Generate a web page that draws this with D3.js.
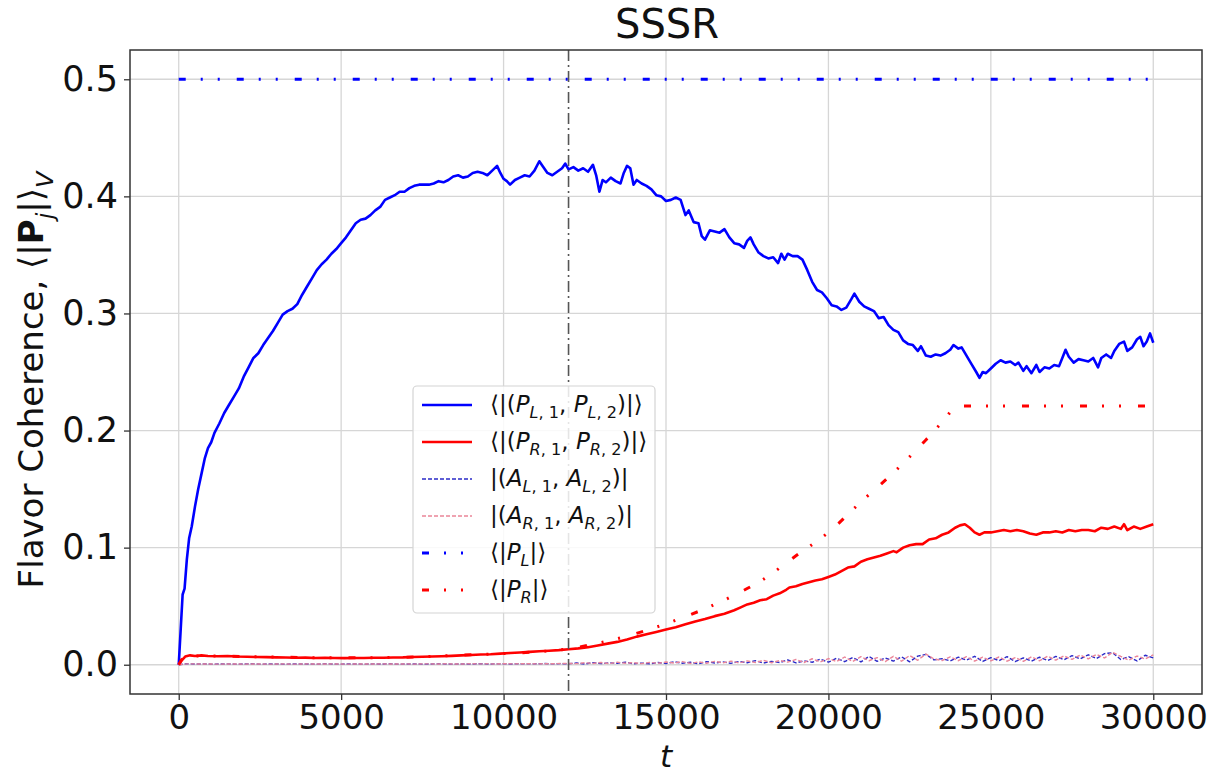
<!DOCTYPE html>
<html>
<head>
<meta charset="utf-8">
<script src="https://cdn.jsdelivr.net/npm/d3@7"></script>
<style>
  body { margin: 0; background: #fff; }
  svg text { font-family: "DejaVu Sans", sans-serif; }
</style>
</head>
<body>
<svg id="chart" width="1215" height="775"></svg>
<script>
// time, <|(P_L1, P_L2)|>
var pairL = [[0,0],[60,0.03],[120,0.06],[180,0.065],[250,0.09],[320,0.108],[400,0.118],[500,0.135],[600,0.15],[700,0.163],[800,0.176],[900,0.185],[1000,0.19],[1100,0.198],[1250,0.206],[1400,0.215],[1550,0.222],[1700,0.229],[1850,0.236],[2000,0.246],[2150,0.254],[2300,0.262],[2450,0.266],[2600,0.273],[2750,0.279],[2900,0.285],[3050,0.292],[3200,0.299],[3350,0.302],[3500,0.304],[3650,0.308],[3800,0.316],[3950,0.323],[4100,0.33],[4250,0.337],[4400,0.342],[4550,0.346],[4700,0.351],[4850,0.355],[5000,0.36],[5150,0.365],[5300,0.371],[5450,0.377],[5600,0.38],[5750,0.381],[5900,0.384],[6050,0.388],[6200,0.391],[6350,0.397],[6500,0.399],[6650,0.401],[6800,0.404],[6950,0.404],[7100,0.407],[7250,0.409],[7400,0.41],[7550,0.41],[7700,0.41],[7850,0.411],[8000,0.413],[8150,0.412],[8300,0.414],[8450,0.417],[8600,0.418],[8750,0.416],[8900,0.417],[9050,0.42],[9200,0.421],[9350,0.42],[9500,0.418],[9650,0.422],[9800,0.426],[9900,0.42],[10000,0.415],[10100,0.413],[10200,0.41],[10350,0.414],[10500,0.416],[10650,0.418],[10800,0.417],[10950,0.422],[11100,0.43],[11200,0.426],[11350,0.42],[11500,0.418],[11650,0.421],[11800,0.424],[11900,0.428],[12000,0.423],[12150,0.425],[12300,0.422],[12450,0.424],[12600,0.421],[12750,0.427],[12850,0.418],[12950,0.404],[13050,0.414],[13150,0.412],[13300,0.416],[13450,0.413],[13600,0.411],[13700,0.42],[13800,0.426],[13900,0.424],[14000,0.41],[14100,0.414],[14250,0.411],[14400,0.409],[14550,0.406],[14700,0.401],[14850,0.4],[15000,0.396],[15150,0.397],[15300,0.399],[15450,0.397],[15600,0.384],[15700,0.388],[15850,0.378],[16000,0.377],[16100,0.366],[16200,0.363],[16350,0.371],[16500,0.37],[16650,0.369],[16800,0.372],[16950,0.365],[17100,0.36],[17250,0.359],[17400,0.356],[17500,0.362],[17600,0.365],[17700,0.359],[17850,0.352],[18000,0.349],[18150,0.347],[18300,0.348],[18450,0.343],[18550,0.351],[18650,0.346],[18750,0.351],[18900,0.349],[19050,0.349],[19200,0.346],[19350,0.337],[19500,0.327],[19650,0.32],[19800,0.318],[19950,0.313],[20100,0.307],[20250,0.306],[20400,0.303],[20550,0.305],[20700,0.312],[20800,0.317],[20950,0.31],[21100,0.306],[21250,0.304],[21400,0.302],[21550,0.296],[21700,0.297],[21850,0.29],[22000,0.286],[22150,0.284],[22300,0.277],[22450,0.274],[22600,0.273],[22750,0.268],[22850,0.272],[23000,0.264],[23150,0.263],[23300,0.265],[23450,0.264],[23600,0.266],[23750,0.269],[23850,0.273],[24000,0.27],[24100,0.271],[24250,0.264],[24400,0.257],[24550,0.25],[24650,0.245],[24750,0.25],[24850,0.249],[25000,0.253],[25150,0.257],[25300,0.26],[25450,0.258],[25600,0.259],[25750,0.256],[25850,0.258],[26000,0.251],[26100,0.255],[26250,0.249],[26400,0.256],[26500,0.25],[26650,0.254],[26800,0.253],[26950,0.256],[27100,0.255],[27200,0.262],[27300,0.269],[27400,0.263],[27550,0.258],[27700,0.261],[27850,0.26],[28000,0.259],[28150,0.262],[28300,0.254],[28400,0.262],[28550,0.265],[28700,0.262],[28800,0.268],[28950,0.274],[29100,0.276],[29200,0.268],[29350,0.271],[29500,0.278],[29600,0.28],[29700,0.272],[29800,0.276],[29900,0.283],[30000,0.275]];

// time, <|(P_R1, P_R2)|>
var pairR = [[0,0],[100,0.004],[200,0.007],[350,0.008],[500,0.0075],[700,0.008],[900,0.0075],[1200,0.0072],[1500,0.0074],[1800,0.007],[2100,0.0068],[2400,0.0066],[2700,0.0065],[3000,0.0063],[3300,0.0062],[3600,0.006],[3900,0.0061],[4200,0.0058],[4500,0.0059],[4800,0.0057],[5100,0.0056],[5400,0.0058],[5700,0.0057],[6000,0.0059],[6300,0.006],[6600,0.0062],[6900,0.0063],[7200,0.0066],[7500,0.0068],[7800,0.007],[8100,0.0073],[8400,0.0076],[8700,0.008],[9000,0.0083],[9300,0.0087],[9600,0.009],[9900,0.0095],[10200,0.01],[10500,0.0105],[10800,0.011],[11100,0.0115],[11400,0.012],[11700,0.0125],[12000,0.0132],[12300,0.014],[12600,0.015],[12900,0.0165],[13200,0.018],[13500,0.0195],[13800,0.0215],[14100,0.024],[14400,0.026],[14700,0.028],[15000,0.03],[15300,0.032],[15600,0.0345],[15900,0.037],[16200,0.039],[16500,0.0415],[16800,0.0435],[17100,0.0465],[17300,0.049],[17500,0.0515],[17700,0.053],[17900,0.055],[18100,0.056],[18300,0.059],[18500,0.061],[18700,0.064],[18800,0.066],[19000,0.067],[19200,0.069],[19400,0.0705],[19600,0.072],[19800,0.073],[20000,0.075],[20200,0.077],[20400,0.08],[20600,0.083],[20800,0.084],[21000,0.088],[21200,0.09],[21400,0.0915],[21600,0.093],[21800,0.095],[22000,0.097],[22100,0.096],[22300,0.1],[22500,0.102],[22700,0.103],[22900,0.103],[23100,0.107],[23300,0.108],[23500,0.111],[23700,0.113],[23900,0.117],[24050,0.119],[24200,0.12],[24350,0.117],[24500,0.113],[24650,0.111],[24800,0.113],[25000,0.113],[25200,0.114],[25400,0.115],[25600,0.114],[25800,0.115],[26000,0.114],[26200,0.112],[26400,0.111],[26600,0.113],[26800,0.113],[27000,0.114],[27200,0.113],[27400,0.115],[27600,0.114],[27800,0.115],[28000,0.115],[28200,0.114],[28400,0.117],[28600,0.116],[28800,0.118],[29000,0.116],[29100,0.12],[29200,0.115],[29400,0.118],[29600,0.116],[29800,0.118],[30000,0.12]];

// time, |(A_L1, A_L2)|
var asymL = [[0,0],[250,0.0008],[500,0.0006],[750,0.0007],[1000,0.0005],[1250,0.0006],[1500,0.0007],[1750,0.0005],[2000,0.0006],[2250,0.0008],[2500,0.0005],[2750,0.0006],[3000,0.0007],[3250,0.0005],[3500,0.0006],[3750,0.0007],[4000,0.0006],[4250,0.0005],[4500,0.0008],[4750,0.0006],[5000,0.0005],[5250,0.0007],[5500,0.0006],[5750,0.0005],[6000,0.0007],[6250,0.0006],[6500,0.0008],[6750,0.0005],[7000,0.0006],[7250,0.0007],[7500,0.0005],[7750,0.0006],[8000,0.0008],[8250,0.0006],[8500,0.0005],[8750,0.0007],[9000,0.0006],[9250,0.0009],[9500,0.0006],[9750,0.0007],[10000,0.0008],[10250,0.0006],[10500,0.0009],[10750,0.0007],[11000,0.0008],[11250,0.001],[11500,0.0007],[11750,0.0009],[12000,0.0008],[12250,0.0015],[12500,0.0006],[12750,0.0018],[13000,0.0009],[13250,0.0016],[13500,0.0012],[13750,0.0022],[14000,0.0008],[14250,0.0014],[14500,0.0007],[14750,0.0019],[15000,0.0011],[15250,0.0025],[15500,0.0013],[15750,0.0021],[16000,0.0009],[16250,0.0026],[16500,0.0015],[16750,0.0024],[17000,0.0012],[17250,0.0028],[17500,0.0017],[17750,0.0035],[18000,0.0014],[18250,0.0029],[18500,0.0019],[18750,0.0041],[19000,0.0016],[19250,0.0033],[19500,0.0021],[19750,0.0048],[20000,0.0022],[20250,0.0055],[20500,0.0026],[20750,0.0062],[21000,0.0024],[21250,0.0071],[21500,0.0029],[21750,0.0058],[22000,0.0031],[22250,0.0068],[22500,0.0025],[22750,0.0074],[23000,0.0088],[23250,0.0041],[23500,0.0052],[23750,0.0033],[24000,0.0065],[24250,0.0039],[24500,0.0072],[24750,0.0028],[25000,0.0061],[25250,0.0035],[25500,0.0069],[25750,0.0027],[26000,0.0058],[26250,0.0031],[26500,0.0064],[26750,0.0036],[27000,0.0071],[27250,0.0042],[27500,0.0078],[27750,0.0049],[28000,0.0085],[28250,0.0052],[28500,0.0095],[28750,0.0102],[29000,0.0045],[29250,0.0068],[29500,0.0032],[29750,0.0081],[30000,0.0058]];

// time, |(A_R1, A_R2)|
var asymR = [[0,0],[250,0.0007],[500,0.0007],[750,0.0006],[1000,0.0006],[1250,0.0005],[1500,0.0007],[1750,0.0006],[2000,0.0005],[2250,0.0007],[2500,0.0006],[2750,0.0005],[3000,0.0006],[3250,0.0007],[3500,0.0005],[3750,0.0006],[4000,0.0007],[4250,0.0006],[4500,0.0006],[4750,0.0007],[5000,0.0006],[5250,0.0005],[5500,0.0007],[5750,0.0006],[6000,0.0006],[6250,0.0007],[6500,0.0006],[6750,0.0006],[7000,0.0007],[7250,0.0005],[7500,0.0007],[7750,0.0007],[8000,0.0006],[8250,0.0008],[8500,0.0006],[8750,0.0006],[9000,0.0008],[9250,0.0007],[9500,0.0008],[9750,0.0006],[10000,0.0009],[10250,0.0007],[10500,0.0008],[10750,0.0009],[11000,0.0007],[11250,0.0009],[11500,0.0008],[11750,0.001],[12000,0.0011],[12250,0.0009],[12500,0.0017],[12750,0.0011],[13000,0.0019],[13250,0.001],[13500,0.0021],[13750,0.0013],[14000,0.0018],[14250,0.0009],[14500,0.002],[14750,0.0012],[15000,0.0023],[15250,0.0014],[15500,0.0027],[15750,0.0011],[16000,0.0024],[16250,0.0013],[16500,0.0029],[16750,0.0016],[17000,0.0031],[17250,0.0015],[17500,0.0033],[17750,0.0018],[18000,0.0038],[18250,0.0017],[18500,0.0036],[18750,0.0022],[19000,0.0045],[19250,0.0019],[19500,0.0051],[19750,0.0024],[20000,0.0053],[20250,0.0027],[20500,0.0066],[20750,0.0028],[21000,0.0069],[21250,0.0034],[21500,0.0061],[21750,0.0027],[22000,0.0072],[22250,0.003],[22500,0.0079],[22750,0.0038],[23000,0.0091],[23250,0.0049],[23500,0.0036],[23750,0.0067],[24000,0.0034],[24250,0.0069],[24500,0.0031],[24750,0.0064],[25000,0.0033],[25250,0.0066],[25500,0.003],[25750,0.0061],[26000,0.0029],[26250,0.0067],[26500,0.0034],[26750,0.0073],[27000,0.0039],[27250,0.0075],[27500,0.0046],[27750,0.0082],[28000,0.005],[28250,0.0088],[28500,0.0058],[28750,0.0106],[29000,0.0071],[29250,0.0039],[29500,0.0074],[29750,0.0049],[30000,0.0084]];

// time, <|P_L|>
var magL = [[0,0.5],[30000,0.5]];

// time, <|P_R|>
var magR = [[0,0],[200,0.007],[600,0.0075],[1500,0.0072],[3000,0.0065],[4500,0.006],[6000,0.006],[7500,0.0068],[9000,0.0085],[10000,0.0095],[11000,0.011],[12000,0.0135],[13000,0.019],[14000,0.026],[15000,0.035],[16000,0.0455],[17000,0.058],[18000,0.073],[19000,0.093],[20000,0.113],[21000,0.139],[22000,0.164],[23000,0.192],[23500,0.207],[24000,0.221],[30000,0.221]];

var xTicks = [0, 5000, 10000, 15000, 20000, 25000, 30000];
var yTicks = [0, 0.1, 0.2, 0.3, 0.4, 0.5];
var markerT = 12000;

var svg = d3.select("#chart");

var x = d3.scaleLinear().domain([-1500, 31500]).range([130, 1202]);
var y = d3.scaleLinear().domain([-0.025, 0.525]).range([694, 50]);

svg.append("defs").append("clipPath").attr("id", "plotclip")
  .append("rect")
    .attr("x", 130).attr("y", 50)
    .attr("width", 1072).attr("height", 644);

// grid
svg.append("g")
  .selectAll("line.gx")
  .data(xTicks)
  .enter().append("line")
    .attr("x1", function(d) { return x(d); })
    .attr("x2", function(d) { return x(d); })
    .attr("y1", 50).attr("y2", 694)
    .attr("stroke", "#d6d6d6").attr("stroke-width", 1.3);
svg.append("g")
  .selectAll("line.gy")
  .data(yTicks)
  .enter().append("line")
    .attr("x1", 130).attr("x2", 1202)
    .attr("y1", function(d) { return y(d); })
    .attr("y2", function(d) { return y(d); })
    .attr("stroke", "#d6d6d6").attr("stroke-width", 1.3);

var line = d3.line()
  .x(function(d) { return x(d[0]); })
  .y(function(d) { return y(d[1]); });

var plot = svg.append("g").attr("clip-path", "url(#plotclip)");

var series = [
  {data: pairL, color: "#0000ff", width: 2.6, dash: null, curve: d3.curveLinear},
  {data: pairR, color: "#ff0000", width: 2.6, dash: null, curve: d3.curveLinear},
  {data: asymL, color: "#2a2ac8", width: 1.4, dash: "4,2", curve: d3.curveLinear},
  {data: asymR, color: "#ea8598", width: 1.4, dash: "4,2", curve: d3.curveLinear},
  {data: magL, color: "#0000ff", width: 3, dash: "7,15,2,15,2,17", curve: d3.curveLinear},
  {data: magR, color: "#ff0000", width: 3, dash: "7,15,2,15,2,17", curve: d3.curveMonotoneX}
];

series.forEach(function(s) {
  plot.append("path")
    .datum(s.data)
    .attr("d", line.curve(s.curve))
    .attr("fill", "none")
    .attr("stroke", s.color)
    .attr("stroke-width", s.width)
    .attr("stroke-dasharray", s.dash)
    .attr("stroke-linejoin", "round");
});

// reference time marker
plot.append("line")
  .attr("x1", x(markerT)).attr("x2", x(markerT))
  .attr("y1", 50).attr("y2", 694)
  .attr("stroke", "#555").attr("stroke-width", 1.6)
  .attr("stroke-dasharray", "11,4,2,4");

// frame
svg.append("rect")
  .attr("x", 130).attr("y", 50)
  .attr("width", 1072).attr("height", 644)
  .attr("fill", "none").attr("stroke", "#333").attr("stroke-width", 1.5);

var xAxis = d3.axisBottom(x).tickValues(xTicks).tickSize(6).tickPadding(5)
  .tickFormat(d3.format("d"));
var yAxis = d3.axisLeft(y).tickValues(yTicks).tickSize(6).tickPadding(6)
  .tickFormat(d3.format(".1f"));

svg.append("g")
  .attr("transform", "translate(0,694)")
  .call(xAxis)
  .call(function(g) { g.select(".domain").remove(); })
  .attr("font-size", 34)
  .attr("font-family", "DejaVu Sans");

svg.append("g")
  .attr("transform", "translate(130,0)")
  .call(yAxis)
  .call(function(g) { g.select(".domain").remove(); })
  .attr("font-size", 35)
  .attr("font-family", "DejaVu Sans");

svg.selectAll(".tick line").attr("stroke", "#333").attr("stroke-width", 1.3);
svg.selectAll(".tick text").attr("fill", "#111");

// title and axis labels
svg.append("text")
  .attr("x", 667).attr("y", 38)
  .attr("text-anchor", "middle")
  .attr("font-size", 40)
  .attr("fill", "#111")
  .text("SSSR");

svg.append("text")
  .attr("x", 666).attr("y", 767)
  .attr("text-anchor", "middle")
  .attr("font-size", 31)
  .attr("font-style", "italic")
  .attr("fill", "#111")
  .text("t");

// writes rich text pieces: [text, style, isSubscript]
function richText(sel, parts, size) {
  var down = false;
  parts.forEach(function(p) {
    var t = sel.append("tspan").text(p[0]);
    if (p[1] === "i") t.attr("font-style", "italic");
    if (p[1] === "b") t.attr("font-weight", "bold");
    if (p[2] && !down) { t.attr("dy", size * 0.28).attr("font-size", size * 0.7); down = true; }
    else if (p[2]) { t.attr("font-size", size * 0.7); }
    else if (down) { t.attr("dy", -size * 0.28); down = false; }
  });
}

var ylab = svg.append("text")
  .attr("transform", "translate(43,380) rotate(-90)")
  .attr("text-anchor", "middle")
  .attr("font-size", 34)
  .attr("fill", "#111");
richText(ylab, [["Flavor Coherence, \u27E8|", "n"], ["P", "b"], ["j", "i", true], ["|\u27E9", "n"], ["V", "i", true]], 34);

// legend
var legendItems = [
  {parts: [["\u27E8|(", "n"], ["P", "i"], ["L", "i", true], [", 1", "n", true], [", ", "n"], ["P", "i"], ["L", "i", true], [", 2", "n", true], [")|\u27E9", "n"]], s: series[0]},
  {parts: [["\u27E8|(", "n"], ["P", "i"], ["R", "i", true], [", 1", "n", true], [", ", "n"], ["P", "i"], ["R", "i", true], [", 2", "n", true], [")|\u27E9", "n"]], s: series[1]},
  {parts: [["|(", "n"], ["A", "i"], ["L", "i", true], [", 1", "n", true], [", ", "n"], ["A", "i"], ["L", "i", true], [", 2", "n", true], [")|", "n"]], s: series[2]},
  {parts: [["|(", "n"], ["A", "i"], ["R", "i", true], [", 1", "n", true], [", ", "n"], ["A", "i"], ["R", "i", true], [", 2", "n", true], [")|", "n"]], s: series[3]},
  {parts: [["\u27E8|", "n"], ["P", "i"], ["L", "i", true], ["|\u27E9", "n"]], s: series[4]},
  {parts: [["\u27E8|", "n"], ["P", "i"], ["R", "i", true], ["|\u27E9", "n"]], s: series[5]}
];

var legend = svg.append("g");
legend.append("rect")
  .attr("x", 413).attr("y", 386)
  .attr("width", 242).attr("height", 227)
  .attr("rx", 4)
  .attr("fill", "#fff").attr("fill-opacity", 0.85)
  .attr("stroke", "#d4d4d4").attr("stroke-width", 1.2);

legendItems.forEach(function(item, i) {
  var ly = 405 + i * 37;
  legend.append("line")
    .attr("x1", 422).attr("x2", 472)
    .attr("y1", ly).attr("y2", ly)
    .attr("stroke", item.s.color)
    .attr("stroke-width", item.s.width)
    .attr("stroke-dasharray", item.s.dash);
  var t = legend.append("text")
    .attr("x", 490).attr("y", ly + 7)
    .attr("font-size", 23)
    .attr("fill", "#111");
  richText(t, item.parts, 23);
});
</script>
</body>
</html>
